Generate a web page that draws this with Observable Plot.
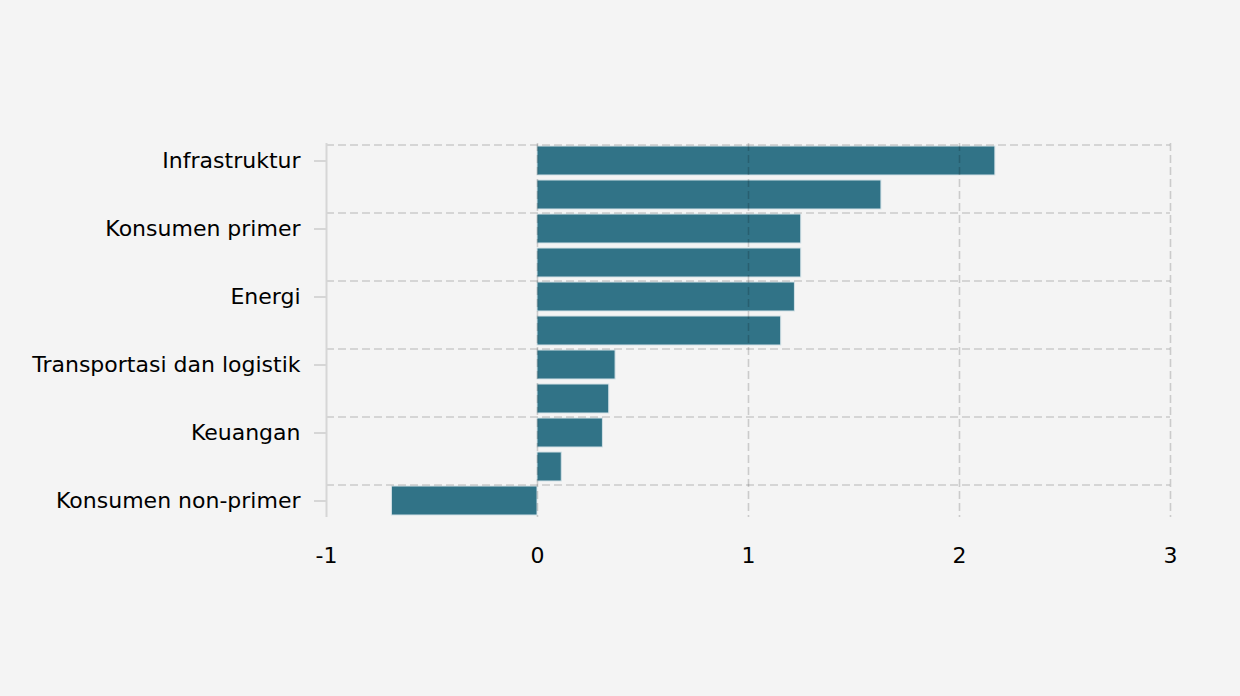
<!DOCTYPE html>
<html>
<head>
<meta charset="utf-8">
<script src="https://cdn.jsdelivr.net/npm/d3@7"></script>
<script src="https://cdn.jsdelivr.net/npm/@observablehq/plot@0.6"></script>
<style>
  html, body { margin: 0; padding: 0; background: #f4f4f4; }
  #chart { width: 1240px; height: 696px; }
</style>
</head>
<body>
<div id="chart"></div>
<script>
const sectors = [
  "Infrastruktur",
  "Bahan baku",
  "Konsumen primer",
  "Kesehatan",
  "Energi",
  "Properti dan real estat",
  "Transportasi dan logistik",
  "Teknologi",
  "Keuangan",
  "Perindustrian",
  "Konsumen non-primer"
];
const values = [2.17, 1.63, 1.25, 1.25, 1.22, 1.155, 0.37, 0.34, 0.31, 0.115, -0.69];
const labeledSectors = sectors.filter((d, i) => i % 2 === 0);
const xTicks = [-1, 0, 1, 2, 3];

const data = sectors.map((s, i) => ({sector: s, value: values[i]}));

const gridStyle = {stroke: "#000", strokeOpacity: 0.17, strokeWidth: 1.6, strokeDasharray: "8,4"};

const chart = Plot.plot({
  width: 1240,
  height: 696,
  marginLeft: 326,
  marginRight: 70,
  marginTop: 143,
  marginBottom: 179,
  style: {background: "#f4f4f4", fontFamily: "'DejaVu Sans', Verdana, sans-serif", fontSize: "22px", color: "#000"},
  x: {domain: [-1, 3]},
  y: {domain: sectors, paddingInner: 0.15, paddingOuter: 0.075},
  marks: [
    Plot.barX(data, {x: "value", y: "sector", fill: "#317387", stroke: "#d3e1e6", strokeWidth: 1}),
    Plot.ruleX(xTicks.filter(d => d !== -1), gridStyle),
    Plot.ruleY(labeledSectors, {y: d => d, dy: -16, x1: -1, x2: 3, ...gridStyle}),
    Plot.ruleX([-1], {stroke: "#d6d6d6", strokeWidth: 2}),
    Plot.axisY(labeledSectors, {tickSize: 12, tickPadding: 14, stroke: "#d6d6d6", strokeWidth: 2, fill: "#000", fontSize: 22, label: null}),
    Plot.axisX(xTicks, {tickSize: 0, tickPadding: 30, tickFormat: d => String(d), fill: "#000", fontSize: 22, label: null})
  ]
});
document.getElementById("chart").appendChild(chart);
</script>
</body>
</html>
